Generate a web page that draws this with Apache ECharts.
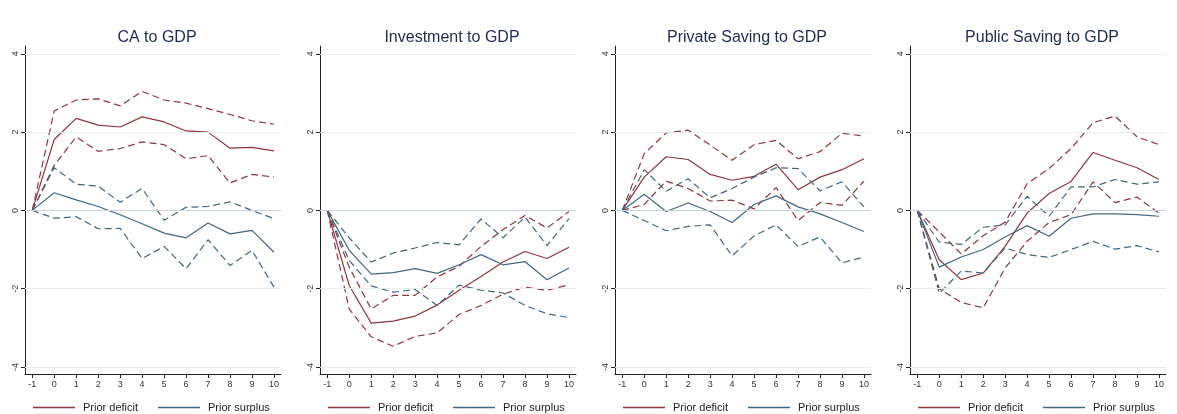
<!DOCTYPE html>
<html>
<head>
<meta charset="utf-8">
<script src="https://cdn.jsdelivr.net/npm/echarts@6/dist/echarts.min.js"></script>
<style>
html,body{margin:0;padding:0;background:#fff;}
#c{width:1177px;height:414px;}
</style>
</head>
<body>
<div id="c"></div>
<script>
// ---- data ----
const horizons = [-1, 0, 1, 2, 3, 4, 5, 6, 7, 8, 9, 10];
const yTicks = [-4, -2, 0, 2, 4];
const titles = ['CA to GDP', 'Investment to GDP', 'Private Saving to GDP', 'Public Saving to GDP'];

// CA to GDP
const caDefMid = [0, 1.81, 2.35, 2.18, 2.13, 2.39, 2.26, 2.03, 2.0, 1.59, 1.61, 1.52];
const caDefHi  = [0, 2.54, 2.82, 2.85, 2.67, 3.04, 2.82, 2.74, 2.6, 2.45, 2.29, 2.2];
const caDefLo  = [0, 1.15, 1.88, 1.51, 1.58, 1.75, 1.68, 1.32, 1.4, 0.7, 0.92, 0.85];
const caSurMid = [0, 0.45, 0.27, 0.1, -0.11, -0.34, -0.58, -0.7, -0.32, -0.6, -0.51, -1.07];
const caSurHi  = [0, 1.09, 0.67, 0.62, 0.21, 0.56, -0.25, 0.08, 0.1, 0.22, 0, -0.21];
const caSurLo  = [0, -0.2, -0.16, -0.47, -0.46, -1.23, -0.92, -1.49, -0.75, -1.41, -1.02, -1.96];

// Investment to GDP
const invDefMid = [0, -1.92, -2.88, -2.83, -2.7, -2.42, -2.04, -1.69, -1.32, -1.05, -1.23, -0.94];
const invDefHi  = [0, -1.45, -2.52, -2.17, -2.17, -1.7, -1.43, -0.92, -0.49, -0.13, -0.45, -0.03];
const invDefLo  = [0, -2.52, -3.23, -3.47, -3.22, -3.13, -2.66, -2.43, -2.14, -1.96, -2.04, -1.9];
const invSurMid = [0, -1.02, -1.63, -1.59, -1.49, -1.61, -1.39, -1.13, -1.39, -1.31, -1.77, -1.47];
const invSurHi  = [0, -0.7, -1.32, -1.09, -0.96, -0.82, -0.88, -0.22, -0.7, -0.17, -0.9, -0.21];
const invSurLo  = [0, -1.28, -1.93, -2.09, -2.02, -2.43, -1.91, -2.04, -2.11, -2.43, -2.64, -2.74];

// Private Saving to GDP
const prvDefMid = [0, 0.85, 1.37, 1.3, 0.92, 0.77, 0.87, 1.18, 0.53, 0.85, 1.04, 1.32];
const prvDefHi  = [0, 1.45, 1.98, 2.05, 1.67, 1.28, 1.68, 1.79, 1.32, 1.5, 1.97, 1.9];
const prvDefLo  = [0, 0.15, 0.75, 0.56, 0.24, 0.26, 0.04, 0.58, -0.26, 0.2, 0.13, 0.75];
const prvSurMid = [0, 0.41, -0.03, 0.19, -0.03, -0.31, 0.15, 0.37, 0.09, -0.09, -0.31, -0.54];
const prvSurHi  = [0, 1.04, 0.49, 0.81, 0.32, 0.56, 0.85, 1.09, 1.07, 0.5, 0.73, 0.09];
const prvSurLo  = [0, -0.26, -0.52, -0.41, -0.37, -1.16, -0.65, -0.37, -0.92, -0.68, -1.34, -1.19];

// Public Saving to GDP
const pubDefMid = [0, -1.26, -1.77, -1.6, -0.92, -0.07, 0.43, 0.74, 1.48, 1.28, 1.09, 0.79];
const pubDefHi  = [0, -0.55, -1.11, -0.65, -0.3, 0.68, 1.07, 1.58, 2.24, 2.41, 1.88, 1.68];
const pubDefLo  = [0, -2.0, -2.35, -2.49, -1.47, -0.79, -0.31, -0.11, 0.73, 0.2, 0.34, -0.07];
const pubSurMid = [0, -1.45, -1.19, -1.0, -0.68, -0.39, -0.66, -0.2, -0.09, -0.09, -0.11, -0.15];
const pubSurHi  = [0, -0.81, -0.87, -0.43, -0.37, 0.36, -0.15, 0.6, 0.6, 0.79, 0.67, 0.73];
const pubSurLo  = [0, -2.12, -1.55, -1.6, -0.96, -1.13, -1.2, -1.0, -0.79, -0.99, -0.9, -1.06];

const panels = [
  [caDefMid, caDefHi, caDefLo, caSurMid, caSurHi, caSurLo],
  [invDefMid, invDefHi, invDefLo, invSurMid, invSurHi, invSurLo],
  [prvDefMid, prvDefHi, prvDefLo, prvSurMid, prvSurHi, prvSurLo],
  [pubDefMid, pubDefHi, pubDefLo, pubSurMid, pubSurHi, pubSurLo]
];

// ---- styling ----
const RED = '#90353b';
const BLUE = '#3f6783';
const FONT = 'Liberation Sans, Arial, sans-serif';
const PW = 295, GL = 25, GW = 256, GT = 46, GH = 328;

const pairs = d => horizons.map((x, i) => [x, d[i]]);

const grid = [], xAxis = [], yAxis = [], series = [], title = [], legend = [];
panels.forEach((p, i) => {
  const off = PW * i;
  grid.push({left: GL + off, top: GT, width: GW, height: GH});
  title.push({
    text: titles[i], left: off + 152, top: 25, textAlign: 'center',
    textStyle: {fontFamily: FONT, fontSize: 16, fontWeight: 'normal', color: '#1c2b52'}
  });
  xAxis.push({
    type: 'value', gridIndex: i, min: -1.33, max: 10.32,
    axisLine: {show: true, onZero: false, lineStyle: {color: '#222', width: 1}},
    axisTick: {show: true, length: 4, customValues: horizons, lineStyle: {color: '#222'}},
    axisLabel: {customValues: horizons, fontFamily: FONT, fontSize: 9, color: '#333', margin: 6},
    splitLine: {show: false}
  });
  yAxis.push({
    type: 'value', gridIndex: i, min: -4.18, max: 4.2,
    axisLine: {show: true, onZero: false, lineStyle: {color: '#222', width: 1}},
    axisTick: {show: true, length: 4, customValues: yTicks, lineStyle: {color: '#222'}},
    axisLabel: {customValues: yTicks, rotate: 90, fontFamily: FONT, fontSize: 9, color: '#333', margin: 5},
    splitLine: {show: false}
  });
  // grid lines (data-driven by yTicks)
  series.push({
    type: 'line', xAxisIndex: i, yAxisIndex: i, data: [], silent: true, z: 1,
    markLine: {
      silent: true, symbol: 'none', label: {show: false}, animation: false,
      data: yTicks.map(v => ({
        yAxis: v,
        lineStyle: v === 0 ? {color: '#c3d3df', width: 1.2, type: 'solid'} : {color: '#e6eeee', width: 1, type: 'solid'}
      }))
    }
  });
  const styles = [
    ['Prior deficit', RED, 'solid', p[0]],
    ['Prior deficit band', RED, [7, 4], p[1]],
    ['Prior deficit band', RED, [7, 4], p[2]],
    ['Prior surplus', BLUE, 'solid', p[3]],
    ['Prior surplus band', BLUE, [7, 4], p[4]],
    ['Prior surplus band', BLUE, [7, 4], p[5]]
  ];
  styles.forEach(s => {
    series.push({
      name: s[0], type: 'line', xAxisIndex: i, yAxisIndex: i, z: 3,
      data: pairs(s[3]), symbol: 'none', silent: true, animation: false,
      lineStyle: {color: s[1], width: 1.2, type: s[2]},
      itemStyle: {color: s[1]}
    });
  });
  legend.push({
    data: ['Prior deficit', 'Prior surplus'], left: off + 33, top: 402,
    icon: 'rect', itemWidth: 42, itemHeight: 1.3, itemGap: 20, selectedMode: false,
    textStyle: {fontFamily: FONT, fontSize: 11, color: '#222', padding: [0, 0, 0, 3]},
    padding: 0
  });
});

const chart = echarts.init(document.getElementById('c'), null, {renderer: 'canvas'});
chart.setOption({
  animation: false, backgroundColor: '#fff',
  title, legend, grid, xAxis, yAxis, series
});
</script>
</body>
</html>
